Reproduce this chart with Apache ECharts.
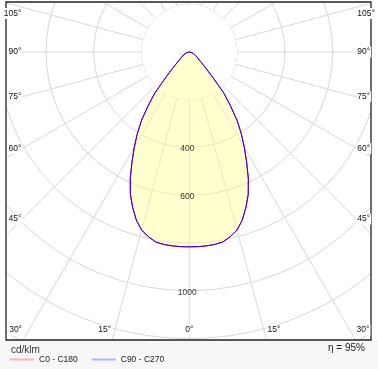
<!DOCTYPE html>
<html>
<head>
<meta charset="utf-8">
<script src="https://cdn.jsdelivr.net/npm/echarts@6/dist/echarts.min.js"></script>
<style>html,body{margin:0;padding:0;background:#fff}#c{width:378px;height:369px}</style>
</head>
<body>
<div id="c"></div>
<script>
// ---- data ----
const gammaDeg = [0, 2.5, 5, 7.5, 10, 12.5, 15, 17.5, 20, 22.5, 25, 27.5, 30, 32.5, 35, 37.5, 40, 42.5, 45, 47.5, 50, 55, 60, 65, 70, 75, 80, 85, 90, 180];
const c0c180 = [816, 816, 815, 813, 808, 792, 772, 738, 693, 645, 585, 520, 461, 405, 348, 282, 225, 151, 106, 78, 60, 42, 32, 25, 18, 12, 7, 3, 0, 0];
const c90c270 = [816, 816, 815, 813, 808, 792, 772, 738, 693, 645, 585, 520, 461, 405, 348, 282, 225, 151, 106, 78, 60, 42, 32, 25, 18, 12, 7, 3, 0, 0];
const radiusLabels = [400, 600, 1000];
const angleLabels = [0, 15, 30, 45, 60, 75, 90, 105];
const seriesNames = ['C0 - C180', 'C90 - C270'];
const unitText = 'cd/klm';
const effText = 'η = 95%';

// ---- layout ----
const FONT = '"Liberation Sans", Arial, sans-serif';
const cx = 189.3, cy = 52;
const rMax = 1400, pxPerCd = 0.2388;
const frame = {x: 6, y: 2, w: 365, h: 338};

function plane(vals) {
  const left = gammaDeg.map((g, i) => [vals[i], g]);
  const right = gammaDeg.slice().reverse().map((g, k) => [vals[gammaDeg.length - 1 - k], 360 - g]);
  return left.concat(right);
}

const chart = echarts.init(document.getElementById('c'), null, {renderer: 'canvas'});

const graphics = [];
graphics.push({type: 'rect', z: 50, shape: {x: 0, y: 0, width: frame.x, height: frame.y + frame.h}, style: {fill: '#fff'}});
graphics.push({type: 'rect', z: 50, shape: {x: frame.x + frame.w, y: 0, width: 378 - frame.x - frame.w, height: frame.y + frame.h}, style: {fill: '#fff'}});
graphics.push({type: 'rect', z: 50, shape: {x: 0, y: 0, width: 378, height: frame.y}, style: {fill: '#fff'}});
graphics.push({type: 'rect', z: 50, shape: {x: 0, y: frame.y + frame.h, width: 378, height: 369 - frame.y - frame.h}, style: {fill: '#f7f7f7'}});
graphics.push({type: 'rect', z: 55, shape: {x: frame.x, y: frame.y, width: frame.w, height: frame.h}, style: {fill: 'none', stroke: '#222', lineWidth: 1.3}});

const L = cx - 167, R = cx + 167, T = 13.5, B = 330, Bray = frame.y + frame.h;
angleLabels.forEach(g => {
  const sides = g === 0 ? [0] : [-1, 1];
  sides.forEach(s => {
    const rad = g * Math.PI / 180;
    const dx = s * Math.sin(rad), dy = Math.cos(rad);
    const tx = dx !== 0 ? ((s < 0 ? L : R) - cx) / dx : Infinity;
    const ty = dy > 0 ? (Bray - cy) / dy : Infinity;
    let x, y, align;
    if (tx <= ty) {
      x = s < 0 ? L : R;
      y = Math.max(T, Math.min(B, cy + tx * dy));
      align = s < 0 ? 'right' : 'left';
    } else {
      x = cx + ty * dx;
      y = B;
      align = g === 0 ? 'center' : (s < 0 ? 'right' : 'left');
    }
    graphics.push({type: 'text', z: 60, x: x, y: y, style: {text: g + '°', fill: '#111', font: '8.5px ' + FONT, align: align, verticalAlign: 'middle', backgroundColor: '#fff', padding: [1, 1]}});
  });
});

graphics.push({type: 'text', z: 60, x: 11, y: 350, style: {text: unitText, fill: '#333', font: '10px ' + FONT, verticalAlign: 'middle'}});
graphics.push({type: 'text', z: 60, x: 365, y: 348.5, style: {text: effText, fill: '#222', font: '10px ' + FONT, align: 'right', verticalAlign: 'middle'}});

const option = {
  backgroundColor: '#fff',
  animation: false,
  polar: {center: [cx, cy], radius: rMax * pxPerCd},
  angleAxis: {
    type: 'value', min: 0, max: 360, interval: 15, startAngle: 270, clockwise: true, z: 0,
    axisLine: {show: true, lineStyle: {color: '#d9d9d9', width: 1}},
    axisTick: {show: false}, axisLabel: {show: false},
    splitLine: {show: true, lineStyle: {color: '#d9d9d9', width: 1}}
  },
  radiusAxis: {
    type: 'value', min: 0, max: rMax, interval: 200, z: 1,
    axisLine: {show: false}, axisTick: {show: false}, axisLabel: {show: false},
    splitLine: {show: true, lineStyle: {color: '#d9d9d9', width: 1}},
    splitArea: {show: true, areaStyle: {color: ['#fff', 'rgba(0,0,0,0)', 'rgba(0,0,0,0)', 'rgba(0,0,0,0)', 'rgba(0,0,0,0)', 'rgba(0,0,0,0)', 'rgba(0,0,0,0)']}}
  },
  legend: {
    left: 10, top: 355, padding: 0, z: 60, icon: 'rect', itemWidth: 24, itemHeight: 2, itemGap: 14, selectedMode: false,
    textStyle: {fontSize: 8.5, color: '#222', fontFamily: FONT},
    data: [
      {name: seriesNames[0], itemStyle: {color: '#ffb0b0'}},
      {name: seriesNames[1], itemStyle: {color: '#b0b0ff'}}
    ]
  },
  series: [
    {
      name: seriesNames[0], type: 'line', coordinateSystem: 'polar', z: 2,
      data: plane(c0c180), symbol: 'none', smooth: false,
      lineStyle: {color: '#ff0000', width: 1},
      itemStyle: {color: '#ff0000'},
      areaStyle: {color: 'rgba(255,255,140,0.6)', origin: 'start'}
    },
    {
      name: seriesNames[1], type: 'line', coordinateSystem: 'polar', z: 3,
      data: plane(c90c270), symbol: 'none', smooth: false,
      lineStyle: {color: '#2a00ff', width: 1},
      itemStyle: {color: '#2a00ff'}
    },
    {
      type: 'scatter', coordinateSystem: 'polar', z: 4, silent: true,
      data: radiusLabels.map(v => [v, 0]),
      symbolSize: 1, itemStyle: {color: 'rgba(0,0,0,0)'},
      label: {show: true, position: 'inside', offset: [-2, 1.5], formatter: p => String(p.value[0]), fontSize: 8.5, color: '#000', fontFamily: FONT}
    }
  ],
  graphic: graphics
};
chart.setOption(option);
</script>
</body>
</html>
